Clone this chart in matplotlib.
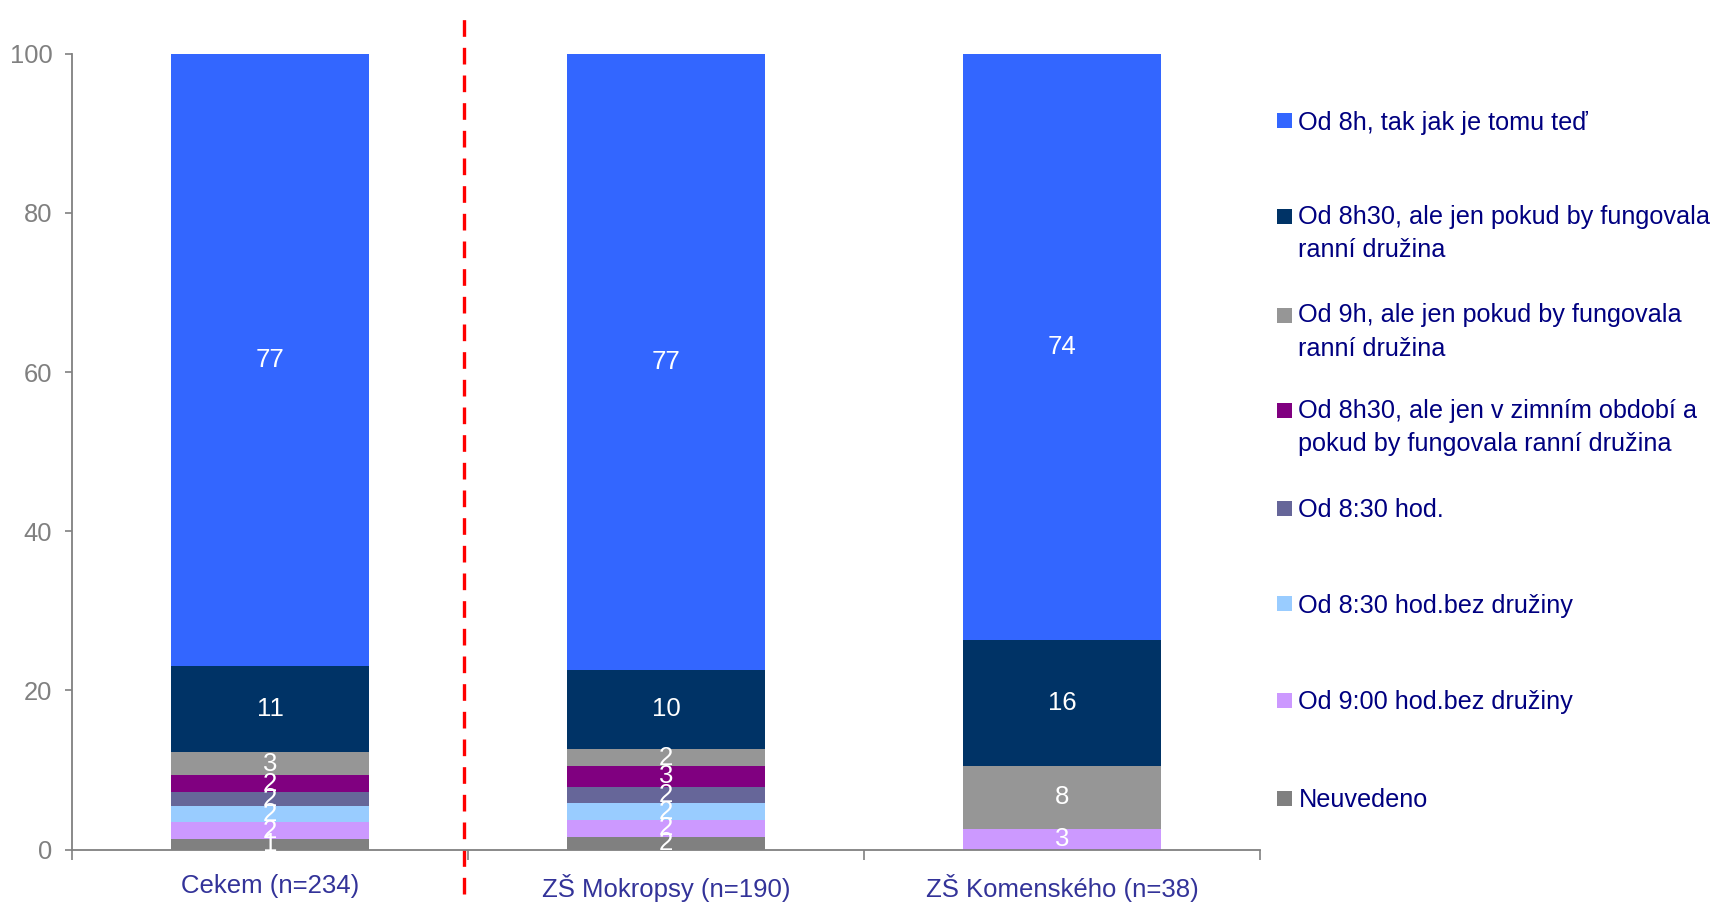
import matplotlib
matplotlib.use("Agg")
import matplotlib.pyplot as plt
from matplotlib.patches import Rectangle

plt.rcParams['font.family'] = ['Liberation Sans', 'DejaVu Sans']

categories = ["Cekem (n=234)", "ZŠ Mokropsy (n=190)", "ZŠ Komenského (n=38)"]

# stacking order bottom -> top
series_names = [
    "Neuvedeno",
    "Od 9:00 hod.bez družiny",
    "Od 8:30 hod.bez družiny",
    "Od 8:30 hod.",
    "Od 8h30, ale jen v zimním období a\npokud by fungovala ranní družina",
    "Od 9h, ale jen pokud by fungovala\nranní družina",
    "Od 8h30, ale jen pokud by fungovala\nranní družina",
    "Od 8h, tak jak je tomu teď",
]
series_colors = ["#808080", "#CC99FF", "#99CCFF", "#666699",
                 "#800080", "#969696", "#003366", "#3366FF"]

neuvedeno = [1.3, 1.6, 0.0]
od900_bez = [2.1, 2.1, 2.6]
od830_bez = [2.1, 2.1, 0.0]
od830_hod = [1.7, 2.1, 0.0]
od8h30_zima = [2.1, 2.6, 0.0]
od9h_druzina = [3.0, 2.1, 7.9]
od8h30_druzina = [10.7, 10.0, 15.8]
od8h_ted = [77.0, 77.4, 73.7]

series_values = [neuvedeno, od900_bez, od830_bez, od830_hod,
                 od8h30_zima, od9h_druzina, od8h30_druzina, od8h_ted]

yticks = [0, 20, 40, 60, 80, 100]

W, H = 1721, 902
fig = plt.figure(figsize=(W / 100, H / 100), dpi=100)
ax = fig.add_axes([72.4 / W, 1 - 849.5 / H, (1260 - 72.4) / W, (849.5 - 53.8) / H])

x = list(range(len(categories)))
bottom = [0.0] * len(categories)
for name, vals, col in zip(series_names, series_values, series_colors):
    bars = ax.bar(x, vals, width=0.5, bottom=bottom, color=col, linewidth=0)
    labels = [f"{v:.0f}" if v > 0 else "" for v in vals]
    ax.bar_label(bars, labels=labels, label_type='center', color='white', fontsize=18.5)
    bottom = [b + v for b, v in zip(bottom, vals)]

ax.set_xlim(-0.5, 2.5)
ax.set_ylim(0, 100)
ax.set_yticks(yticks)
ax.set_yticklabels([str(t) for t in yticks])
ax.set_xticks(x)
ax.set_xticklabels(categories)
ax.set_xticks([-0.5, 0.5, 1.5, 2.5], minor=True)
ax.tick_params(axis='x', which='major', length=0, pad=18, labelsize=18.5, labelcolor='#333399')
ax.tick_params(axis='x', which='minor', length=7, width=1.2, color='#808080', direction='out')
ax.tick_params(axis='y', length=5, width=1.2, color='#808080', pad=9.5, labelsize=18.4, labelcolor='#808080')

for s in ['top', 'right']:
    ax.spines[s].set_visible(False)
for s in ['left', 'bottom']:
    ax.spines[s].set_color('#808080')
    ax.spines[s].set_linewidth(1.3)

# red dashed separator
ax.plot([0.49, 0.49], [-5.6, 104.6], color='#FF0000', lw=2.4, dashes=(5.0, 3.3), clip_on=False)

# custom legend (top -> bottom), y = centre of first text line in pixels
legend_rows_y = [120.7, 216.2, 315.0, 410.5, 508.2, 603.7, 700.3, 798.0]
sq = 15
fs = 18.2
line_px = 31.8
cap = fs * 100 / 72 * 0.716
for i, (name, col) in enumerate(zip(series_names[::-1], series_colors[::-1])):
    yc = legend_rows_y[i]
    nlines = name.count("\n") + 1
    fig.patches.append(Rectangle((1277 / W, 1 - (yc + sq / 2) / H), sq / W, sq / H,
                                 transform=fig.transFigure, facecolor=col, edgecolor='none'))
    base = yc + cap / 2 + (nlines - 1) * line_px
    fig.text(1298.5 / W, 1 - base / H, name, ha='left', va='baseline', fontsize=fs,
             color='#000080', linespacing=1.50, transform=fig.transFigure)

fig.savefig("out.png", dpi=100)
